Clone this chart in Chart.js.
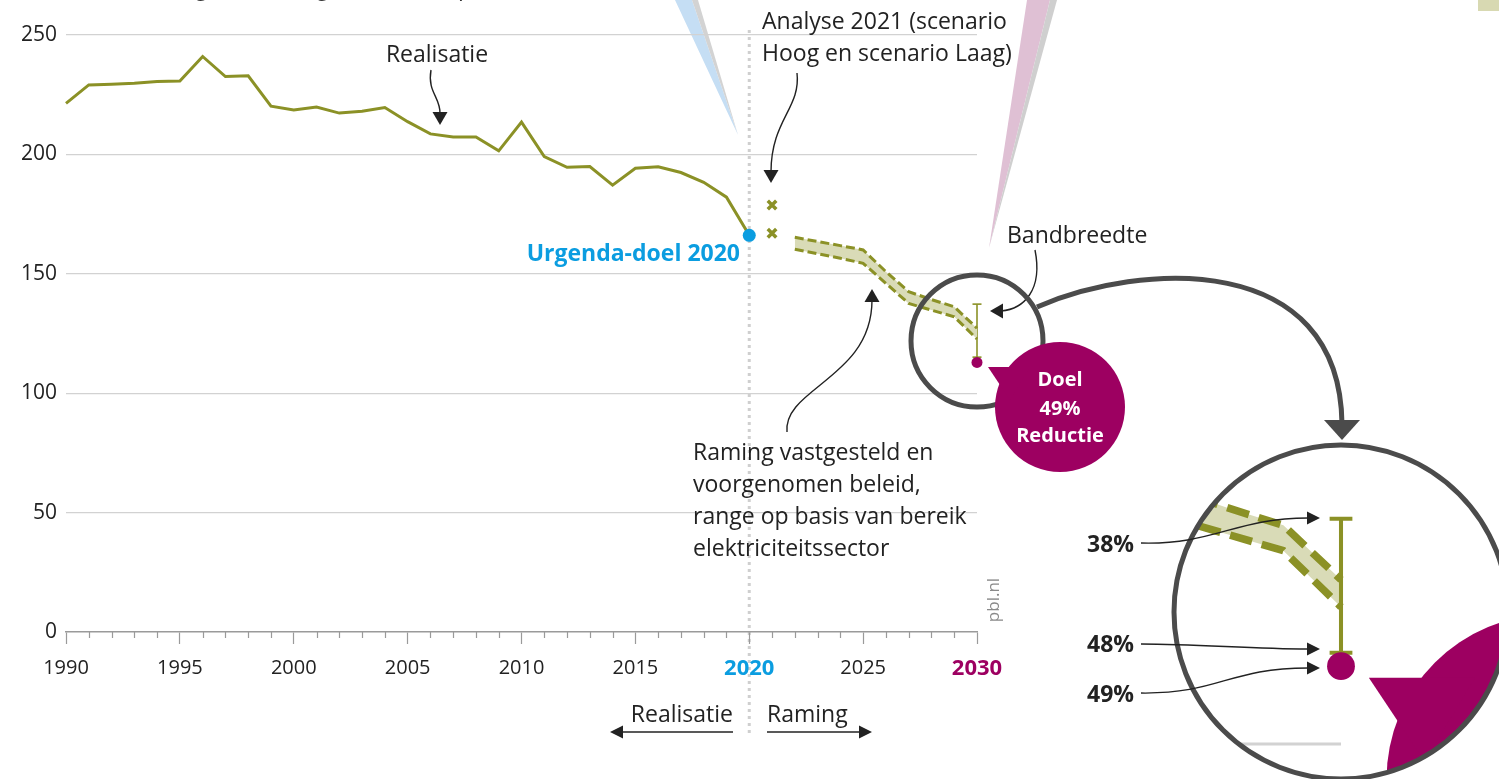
<!DOCTYPE html>
<html lang="nl">
<head>
<meta charset="utf-8">
<title>Broeikasgasemissie en doelen</title>
<script src="https://cdn.jsdelivr.net/npm/chart.js@4.4.1/dist/chart.umd.min.js"></script>
<style>
  html, body { margin: 0; padding: 0; background: #fff; }
  canvas { display: block; }
</style>
</head>
<body>
<canvas id="grafico" width="1499" height="779"></canvas>
<script>
// waarden (megaton CO2-equivalent)
const jaren = [1990, 1991, 1992, 1993, 1994, 1995, 1996, 1997, 1998, 1999, 2000,
  2001, 2002, 2003, 2004, 2005, 2006, 2007, 2008, 2009, 2010,
  2011, 2012, 2013, 2014, 2015, 2016, 2017, 2018, 2019, 2020];
const realisatie = [221.4, 229.1, 229.4, 229.8, 230.5, 230.7, 241.0, 232.6, 232.9, 220.2, 218.6,
  219.8, 217.3, 218.1, 219.6, 213.7, 208.6, 207.3, 207.3, 201.5, 213.5,
  199.1, 194.6, 194.9, 187.1, 194.2, 194.8, 192.4, 188.3, 182.1, 166.1];
const urgendaJaar = 2020;
const urgendaDoel = 166.1;
const analyseJaar = 2021;
const analyse2021 = [178.8, 167.0];
const ramingJaren = [2022, 2023, 2024, 2025, 2026, 2027, 2028, 2029, 2030];
const ramingHoog = [165.3, 163.5, 161.8, 160.0, 150.9, 142.5, 139.2, 136.2, 127.2];
const ramingLaag = [160.3, 158.4, 156.5, 154.4, 146.0, 137.6, 134.8, 132.0, 122.7];
const doelJaar = 2030;
const bandbreedte = [115.1, 137.3];   // 48% en 38% reductie
const doel2030 = 112.9;               // 49% reductie
const xTicks = [1990, 1995, 2000, 2005, 2010, 2015, 2020, 2025, 2030];
const yTicks = [0, 50, 100, 150, 200, 250];

const olijf = '#8b9126';
const olijfLicht = '#d9dbb7';
const blauw = '#0b9de0';
const magenta = '#9d0061';
const donkergrijs = '#4b4b4b';
const tekstKleur = '#222222';
const lettertype = '"Open Sans", "Noto Sans", sans-serif';

Chart.defaults.font.family = lettertype;

const grafico = document.getElementById('grafico');

const pijlpunt = (ctx, x, y, hoek, lengte, breedte) => {
  ctx.save();
  ctx.translate(x, y);
  ctx.rotate(hoek);
  ctx.beginPath();
  ctx.moveTo(0, 0);
  ctx.lineTo(-lengte, -breedte / 2);
  ctx.lineTo(-lengte, breedte / 2);
  ctx.closePath();
  ctx.fill();
  ctx.restore();
};

const curve = (ctx, p) => {
  ctx.beginPath();
  ctx.moveTo(p[0], p[1]);
  ctx.bezierCurveTo(p[2], p[3], p[4], p[5], p[6], p[7]);
  ctx.stroke();
};

const tekst = (ctx, s, x, y, size, kleur, align, bold) => {
  ctx.font = (bold ? 'bold ' : '') + size + 'px ' + lettertype;
  ctx.fillStyle = kleur;
  ctx.textAlign = align || 'left';
  ctx.textBaseline = 'alphabetic';
  ctx.fillText(s, x, y);
};

const tekenBel = (ctx, metTekst) => {
  ctx.fillStyle = magenta;
  ctx.beginPath();
  ctx.arc(1060, 407, 65, 0, Math.PI * 2);
  ctx.fill();
  ctx.beginPath();
  ctx.moveTo(988, 367);
  ctx.lineTo(1030, 367);
  ctx.lineTo(1010, 400);
  ctx.closePath();
  ctx.fill();
  if (metTekst) {
    tekst(ctx, 'Doel', 1060, 386, 20, '#fff', 'center', true);
    tekst(ctx, '49%', 1060, 415, 20, '#fff', 'center', true);
    tekst(ctx, 'Reductie', 1060, 442, 20, '#fff', 'center', true);
  }
};

const tekenLijn = (ctx, punten) => {
  ctx.beginPath();
  punten.forEach((p, i) => i ? ctx.lineTo(p.x, p.y) : ctx.moveTo(p.x, p.y));
  ctx.stroke();
};

// uitvergrote kopie van band, bandbreedte en doel
const tekenKopie = (chart) => {
  const ctx = chart.ctx;
  const xs = chart.scales.x;
  const ys = chart.scales.y;
  const k = 2.53;
  const cx0 = xs.getPixelForValue(doelJaar), cy0 = 341;
  const cx1 = 1341, cy1 = 612, r1 = 167;

  ctx.save();
  ctx.beginPath();
  ctx.arc(cx1, cy1, r1, 0, Math.PI * 2);
  ctx.clip();
  ctx.translate(cx1, cy1);
  ctx.scale(k, k);
  ctx.translate(-cx0, -cy0);

  const y100 = ys.getPixelForValue(100);
  ctx.strokeStyle = '#d2d2d2';
  ctx.lineWidth = 1.2;
  ctx.beginPath();
  ctx.moveTo(xs.left, y100);
  ctx.lineTo(xs.right, y100);
  ctx.stroke();

  const hoog = chart.getDatasetMeta(3).data;
  const laag = chart.getDatasetMeta(4).data;
  ctx.fillStyle = olijfLicht;
  ctx.beginPath();
  hoog.forEach((p, i) => i ? ctx.lineTo(p.x, p.y) : ctx.moveTo(p.x, p.y));
  for (let i = laag.length - 1; i >= 0; i--) ctx.lineTo(laag[i].x, laag[i].y);
  ctx.closePath();
  ctx.fill();
  ctx.strokeStyle = olijf;
  ctx.lineWidth = 3;
  ctx.setLineDash([9, 4]);
  tekenLijn(ctx, hoog);
  tekenLijn(ctx, laag);
  ctx.setLineDash([]);

  const bb = chart.getDatasetMeta(5).data;
  ctx.lineWidth = 1.6;
  tekenLijn(ctx, bb);
  bb.forEach(p => {
    ctx.beginPath();
    ctx.moveTo(p.x - 4.5, p.y);
    ctx.lineTo(p.x + 4.5, p.y);
    ctx.stroke();
  });
  const d = chart.getDatasetMeta(6).data[0];
  ctx.fillStyle = magenta;
  ctx.beginPath();
  ctx.arc(d.x, d.y, 5.5, 0, Math.PI * 2);
  ctx.fill();

  tekenBel(ctx, false);
  ctx.restore();

  ctx.strokeStyle = donkergrijs;
  ctx.lineWidth = 5;
  ctx.beginPath();
  ctx.arc(cx1, cy1, r1, 0, Math.PI * 2);
  ctx.stroke();
};

const annotaties = {
  id: 'annotaties',
  beforeDraw(chart) {
    const ctx = chart.ctx;
    const xs = chart.scales.x;
    ctx.save();
    // lichtbundels
    ctx.fillStyle = '#c5def4';
    ctx.beginPath(); ctx.moveTo(675, 0); ctx.lineTo(692, 0); ctx.lineTo(738, 135); ctx.closePath(); ctx.fill();
    ctx.fillStyle = '#d3d3d3';
    ctx.beginPath(); ctx.moveTo(692, 0); ctx.lineTo(698, 0); ctx.lineTo(738, 135); ctx.closePath(); ctx.fill();
    ctx.fillStyle = '#dfc0d4';
    ctx.beginPath(); ctx.moveTo(1027, 0); ctx.lineTo(1050, 0); ctx.lineTo(989, 248); ctx.closePath(); ctx.fill();
    ctx.fillStyle = '#cfcfcf';
    ctx.beginPath(); ctx.moveTo(1050, 0); ctx.lineTo(1057, 0); ctx.lineTo(989, 248); ctx.closePath(); ctx.fill();
    ctx.fillStyle = '#d8d9b2';
    ctx.fillRect(1478, 0, 21, 11);
    // scheiding realisatie / raming
    const x20 = xs.getPixelForValue(2020);
    ctx.strokeStyle = '#cfcfcf';
    ctx.lineWidth = 3;
    ctx.setLineDash([3, 4]);
    ctx.beginPath(); ctx.moveTo(x20, 30); ctx.lineTo(x20, 736); ctx.stroke();
    ctx.restore();
  },
  afterDraw(chart) {
    const ctx = chart.ctx;
    const xs = chart.scales.x;
    const ys = chart.scales.y;
    ctx.save();

    // kleine streepjes per jaar
    ctx.strokeStyle = '#9a9a9a';
    ctx.lineWidth = 1.2;
    for (let j = 1990; j <= 2030; j++) {
      if (xTicks.includes(j)) continue;
      const px = Math.round(xs.getPixelForValue(j)) + 0.5;
      ctx.beginPath(); ctx.moveTo(px, ys.bottom); ctx.lineTo(px, ys.bottom + 6); ctx.stroke();
    }

    // titel (bovenrand afgesneden)
    tekst(ctx, 'Emissie broeikasgassen (megaton CO2-equivalent)', 17, -5, 23, '#333');

    // teksten
    tekst(ctx, 'Realisatie', 437, 62, 23, tekstKleur, 'center');
    tekst(ctx, 'Analyse 2021 (scenario', 762, 29, 23, tekstKleur);
    tekst(ctx, 'Hoog en scenario Laag)', 762, 61, 23, tekstKleur);
    tekst(ctx, 'Urgenda-doel 2020', 740, 261, 23, blauw, 'right', true);
    tekst(ctx, 'Bandbreedte', 1007, 243, 23, tekstKleur);
    ['Raming vastgesteld en', 'voorgenomen beleid,', 'range op basis van bereik', 'elektriciteitssector']
      .forEach((r, i) => tekst(ctx, r, 693, 460 + i * 32, 23, tekstKleur));

    // dunne pijlen
    ctx.strokeStyle = tekstKleur;
    ctx.fillStyle = tekstKleur;
    ctx.lineWidth = 1.4;
    curve(ctx, [431, 70, 427, 92, 441, 98, 440, 114]);
    pijlpunt(ctx, 440, 125, Math.PI / 2, 13, 15);
    curve(ctx, [797, 73, 801, 108, 771, 120, 771, 172]);
    pijlpunt(ctx, 771, 183, Math.PI / 2, 13, 15);
    curve(ctx, [787, 432, 783, 388, 872, 378, 872, 300]);
    pijlpunt(ctx, 872, 289, -Math.PI / 2, 13, 15);
    curve(ctx, [1035, 250, 1043, 290, 1024, 309, 1001, 311]);
    pijlpunt(ctx, 990, 311, Math.PI, 13, 15);

    // onderschrift realisatie / raming
    tekst(ctx, 'Realisatie', 733, 722, 23, tekstKleur, 'right');
    tekst(ctx, 'Raming', 767, 722, 23, tekstKleur);
    ctx.lineWidth = 1.6;
    ctx.beginPath(); ctx.moveTo(733, 732); ctx.lineTo(622, 732); ctx.stroke();
    pijlpunt(ctx, 610, 732, Math.PI, 13, 13);
    ctx.beginPath(); ctx.moveTo(767, 732); ctx.lineTo(860, 732); ctx.stroke();
    pijlpunt(ctx, 872, 732, 0, 13, 13);

    // pbl.nl
    ctx.save();
    ctx.translate(999, 600);
    ctx.rotate(-Math.PI / 2);
    tekst(ctx, 'pbl.nl', 0, 0, 17, '#8a8a8a', 'center');
    ctx.restore();

    // cirkel rond 2030 en doelbel
    ctx.strokeStyle = donkergrijs;
    ctx.lineWidth = 5;
    ctx.beginPath();
    ctx.arc(xs.getPixelForValue(doelJaar), 341, 66, 0, Math.PI * 2);
    ctx.stroke();
    tekenBel(ctx, true);

    // grote pijl naar uitvergroting
    ctx.strokeStyle = donkergrijs;
    ctx.fillStyle = donkergrijs;
    ctx.lineWidth = 5;
    curve(ctx, [1037, 307, 1140, 262, 1340, 250, 1342, 424]);
    pijlpunt(ctx, 1342, 440, Math.PI / 2, 20, 36);

    tekenKopie(chart);

    // percentages in de uitvergroting
    tekst(ctx, '38%', 1087, 552, 23, tekstKleur, 'left', true);
    tekst(ctx, '48%', 1087, 652, 23, tekstKleur, 'left', true);
    tekst(ctx, '49%', 1087, 702, 23, tekstKleur, 'left', true);
    ctx.strokeStyle = tekstKleur;
    ctx.fillStyle = tekstKleur;
    ctx.lineWidth = 1.3;
    curve(ctx, [1141, 543, 1215, 545, 1235, 518, 1308, 518]);
    pijlpunt(ctx, 1320, 518, 0, 13, 13);
    curve(ctx, [1141, 644, 1200, 644, 1250, 649, 1308, 649]);
    pijlpunt(ctx, 1320, 649, 0, 13, 13);
    curve(ctx, [1141, 693, 1220, 694, 1228, 668, 1308, 668]);
    pijlpunt(ctx, 1320, 668, 0, 13, 13);

    ctx.restore();
  }
};

const punten = (xs, ys) => ys.map((v, i) => ({ x: Array.isArray(xs) ? xs[i] : xs, y: v }));
const tickWaarde = c => (c && c.tick ? c.tick.value : null);
const accent = v => v === 2020 || v === 2030;

new Chart(grafico, {
  type: 'line',
  data: {
    datasets: [
      {
        label: 'Realisatie',
        data: punten(jaren, realisatie),
        borderColor: olijf, borderWidth: 3, pointRadius: 0, tension: 0, clip: false
      },
      {
        label: 'Urgenda-doel 2020',
        data: punten(urgendaJaar, [urgendaDoel]),
        showLine: false, pointRadius: 6.5, pointBackgroundColor: blauw, pointBorderWidth: 0,
        order: -1, clip: false
      },
      {
        label: 'Analyse 2021',
        data: punten(analyseJaar, analyse2021),
        showLine: false, pointStyle: 'crossRot', pointRadius: 6, pointBorderWidth: 3.5,
        pointBorderColor: olijf, clip: false
      },
      {
        label: 'Raming hoog',
        data: punten(ramingJaren, ramingHoog),
        borderColor: olijf, borderWidth: 3, borderDash: [9, 4], pointRadius: 0, fill: false, clip: false
      },
      {
        label: 'Raming laag',
        data: punten(ramingJaren, ramingLaag),
        borderColor: olijf, borderWidth: 3, borderDash: [9, 4], pointRadius: 0,
        fill: '-1', backgroundColor: olijfLicht, clip: false
      },
      {
        label: 'Bandbreedte',
        data: punten(doelJaar, bandbreedte),
        borderColor: olijf, borderWidth: 1.6, pointStyle: 'line', pointRadius: 4.5,
        pointBorderWidth: 1.6, pointBorderColor: olijf, clip: false
      },
      {
        label: 'Doel 49% reductie',
        data: punten(doelJaar, [doel2030]),
        showLine: false, pointRadius: 5.5, pointBackgroundColor: magenta, pointBorderWidth: 0,
        order: -1, clip: false
      }
    ]
  },
  options: {
    responsive: false,
    animation: false,
    devicePixelRatio: 1,
    events: [],
    layout: { padding: { top: 35, right: 522, left: 0, bottom: 0 } },
    plugins: { legend: { display: false }, tooltip: { enabled: false } },
    scales: {
      x: {
        type: 'linear',
        min: 1990,
        max: 2030,
        afterFit: s => { s.height = 147; },
        ticks: {
          stepSize: 1,
          autoSkip: false,
          maxRotation: 0,
          padding: 12,
          callback: v => xTicks.includes(v) ? String(v) : '',
          color: c => tickWaarde(c) === 2020 ? blauw : tickWaarde(c) === 2030 ? magenta : tekstKleur,
          font: c => accent(tickWaarde(c)) ? { size: 22, weight: 'bold' } : { size: 20 }
        },
        grid: {
          drawOnChartArea: false,
          tickLength: 12,
          tickWidth: 1.2,
          tickColor: c => xTicks.includes(tickWaarde(c)) ? '#9a9a9a' : 'rgba(0,0,0,0)'
        },
        border: { color: '#9a9a9a', width: 1.5 }
      },
      y: {
        min: 0,
        max: 250,
        afterFit: s => { s.width = 66; },
        afterBuildTicks: s => { s.ticks = yTicks.map(v => ({ value: v })); },
        ticks: { padding: 9, color: tekstKleur, font: { size: 21 } },
        grid: {
          color: c => tickWaarde(c) === 0 ? 'rgba(0,0,0,0)' : '#d2d2d2',
          lineWidth: 1.2,
          drawTicks: false
        },
        border: { display: false }
      }
    }
  },
  plugins: [annotaties]
});
</script>
</body>
</html>
